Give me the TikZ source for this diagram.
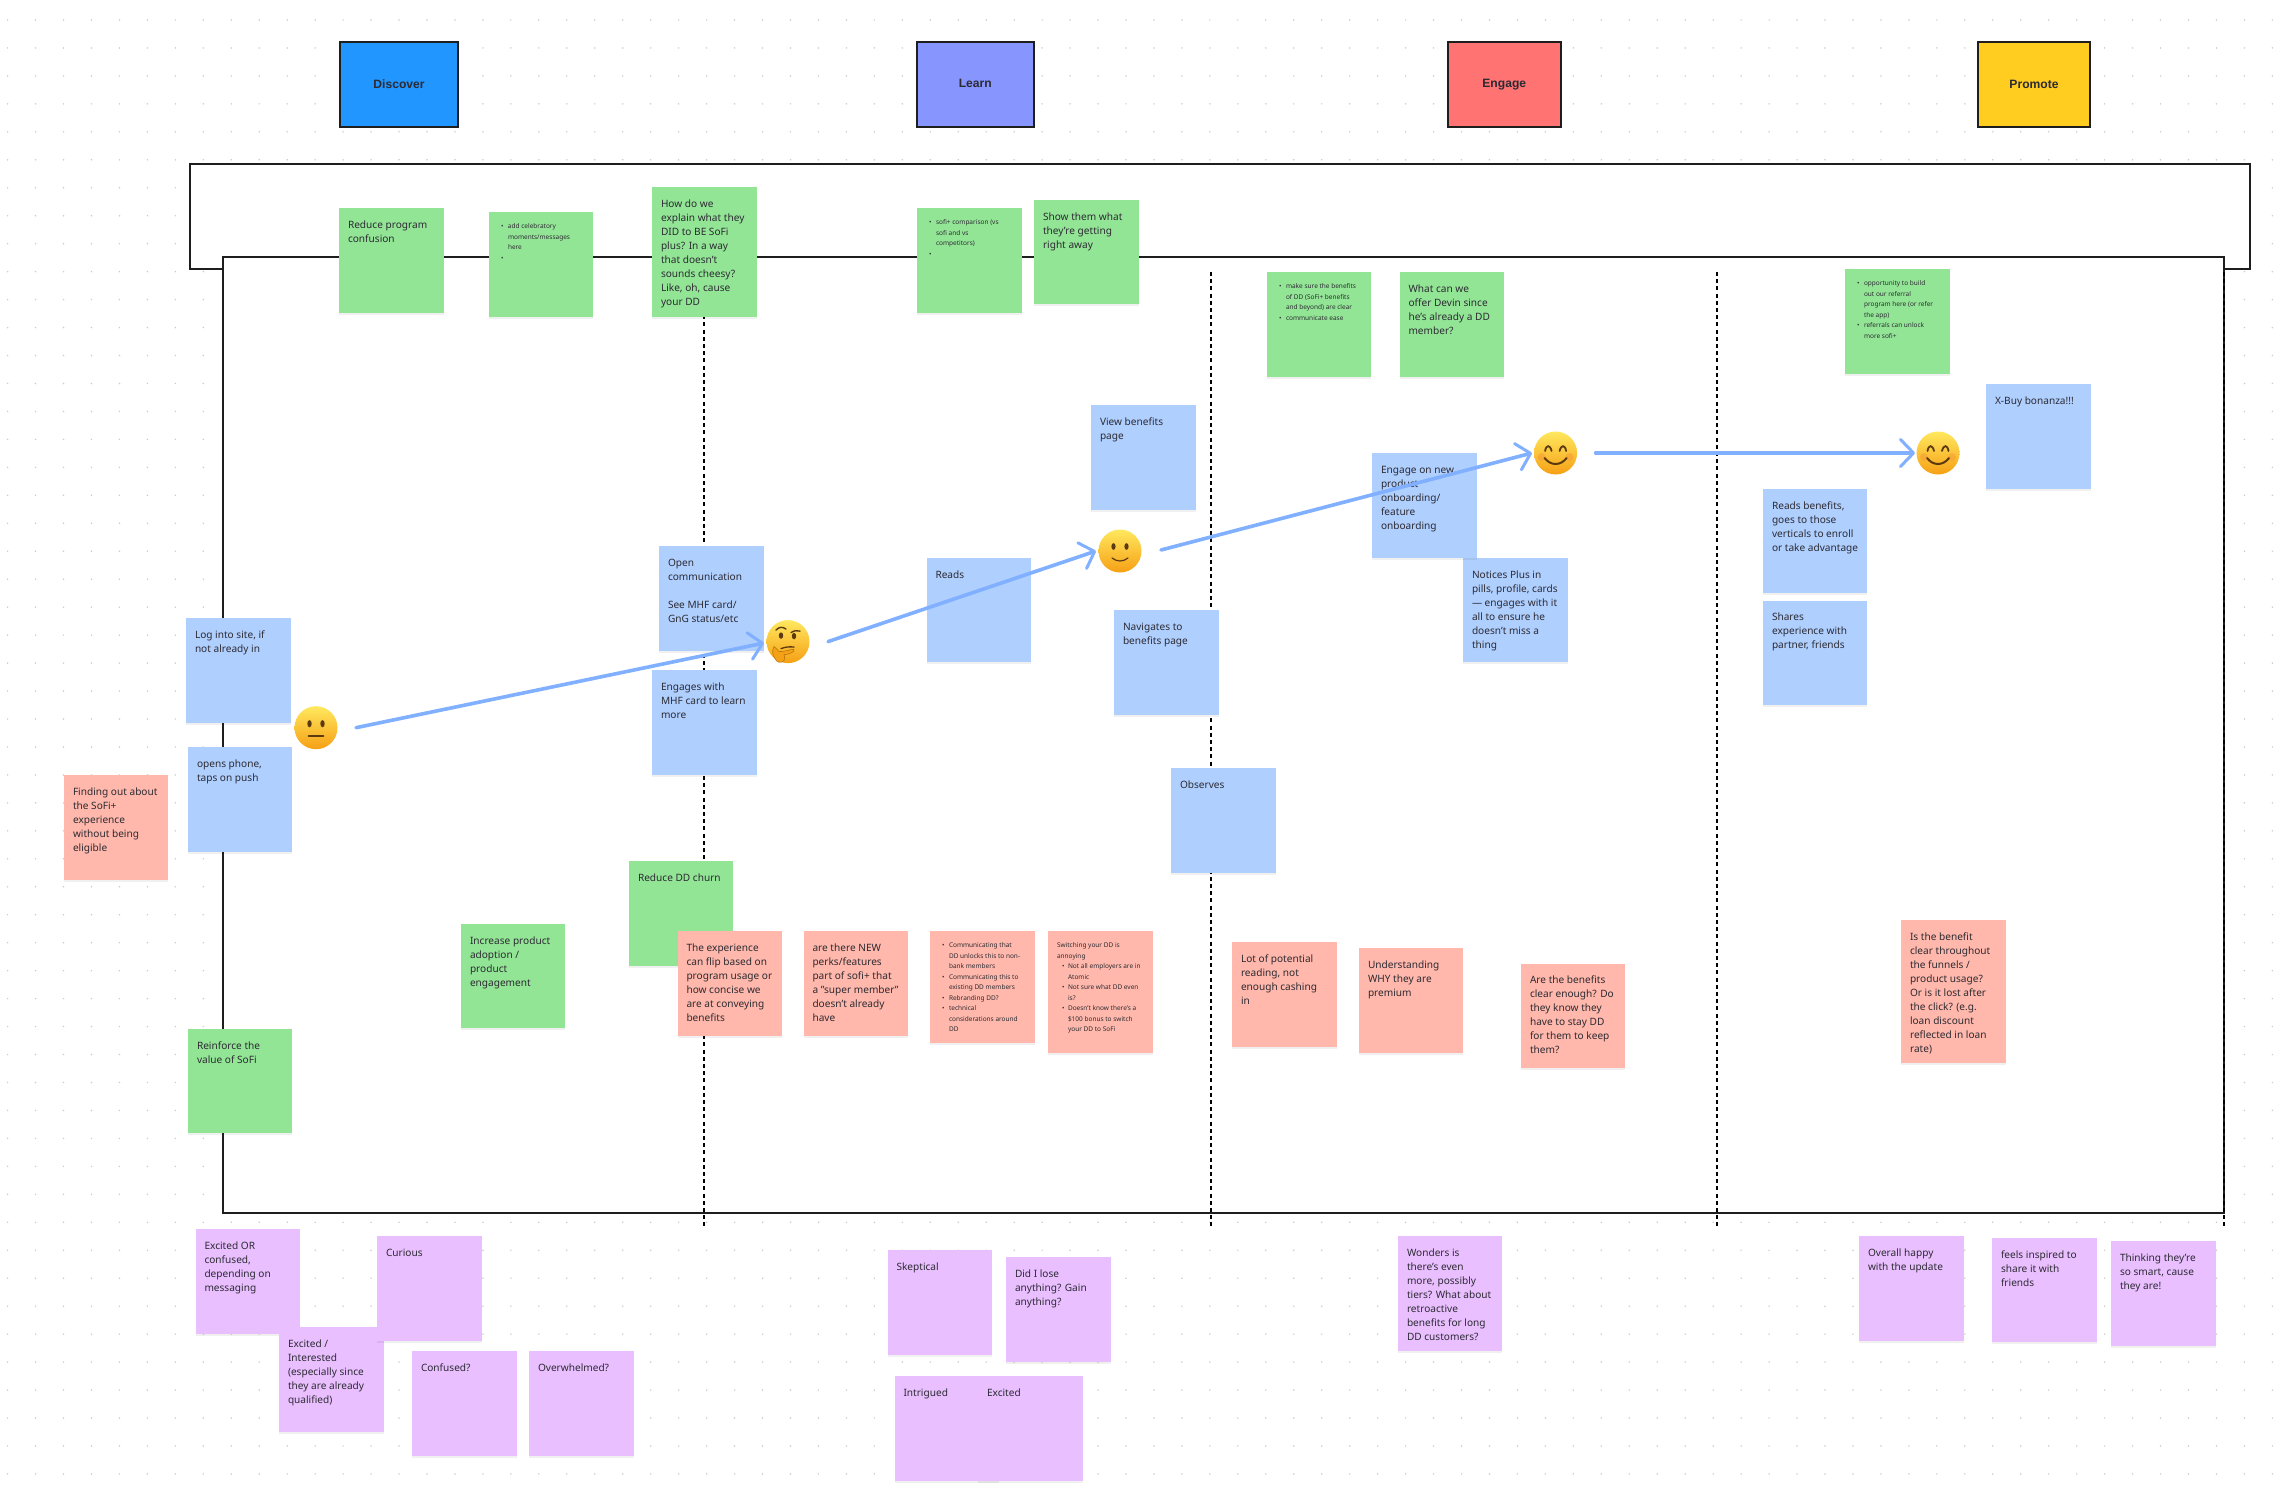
\documentclass[tikz,border=0pt]{standalone}
\usepackage{fontspec}
\setmainfont{Noto Sans}
\newfontfamily\stagefont{Liberation Sans}
\usetikzlibrary{arrows.meta,shadows,calc}
\definecolor{ngreen}{HTML}{93E596}
\definecolor{nblue}{HTML}{AFCFFF}
\definecolor{nsalmon}{HTML}{FFB8AB}
\definecolor{npurple}{HTML}{E9BFFF}
\definecolor{txt}{HTML}{2C2A32}
\definecolor{arrowblue}{HTML}{80B0FF}
\definecolor{frameblack}{HTML}{1E1E1E}
\definecolor{eyedark}{HTML}{5B3A12}
\definecolor{stdiscover}{HTML}{2196FF}
\definecolor{stlearn}{HTML}{8795FF}
\definecolor{stengage}{HTML}{FF7373}
\definecolor{stpromote}{HTML}{FFCD1F}
\definecolor{cheek}{HTML}{F07A3A}
\definecolor{FFtop}{HTML}{FFE85E}
\definecolor{FFcore}{HTML}{FFD233}
\definecolor{FFedge}{HTML}{F6A015}
\tikzset{
  x=1pt,y=-1pt,
  note/.style={fill=#1,anchor=north west,inner sep=0pt,outer sep=0pt,text=txt,
    drop shadow={shadow xshift=0pt,shadow yshift=-2pt,opacity=.06,fill=black}},
  stagebox/.style={fill=#1,draw=frameblack,line width=2pt,anchor=north west,inner sep=0pt,outer sep=0pt,
    text=txt,font=\stagefont\bfseries\fontsize{12.1}{14}\selectfont},
  framebox/.style={draw=frameblack,fill=white,line width=2.2pt,anchor=north west,inner sep=0pt,outer sep=0pt},
  dashline/.style={draw=black,line width=1.7pt,dash pattern=on 4pt off 3.2pt},
  flow/.style={draw=arrowblue,line width=3.6pt,line cap=round,
    -{Straight Barb[length=13pt,width=27pt,line width=3pt,round]}},
  emo/.style={circle,minimum size=43pt,inner sep=0pt,outer sep=0pt,
    top color=FFtop,middle color=FFcore,bottom color=FFedge},
  eyeline/.style={draw=eyedark,line cap=round},
}
\newcommand{\tbig}{\fontsize{10.1}{14}\selectfont\rule{0pt}{20pt}\ignorespaces}
\newcommand{\tsmall}{\fontsize{6.5}{10.5}\selectfont\rule{0pt}{16.6pt}\ignorespaces}
\newcommand{\bu}{\makebox[10pt][l]{\hspace{3pt}\textbullet}}
\newcommand{\bc}{\hspace*{10pt}}
\newcommand{\bsub}{\hspace*{5pt}\makebox[6pt][l]{\textbullet}}
\newcommand{\csub}{\hspace*{11pt}}
\newcommand{\stk}[7]{%
  \pgfmathsetmacro\stW{#5-#3}\pgfmathsetmacro\stH{#6-#4}%
  \node[note=#2,minimum width=\stW pt,minimum height=\stH pt] (#1) at (#3,#4)
    {\parbox[c][\stH pt][t]{\stW pt}{\leftskip=9pt\rightskip=0pt plus 1fil\parindent=0pt\hbadness=10000\hfuzz=40pt #7}};}
\newcommand{\stg}[7]{%
  \pgfmathsetmacro\stW{#5-#3}\pgfmathsetmacro\stH{#6-#4}%
  \node[stagebox=#2,minimum width=\stW pt,minimum height=\stH pt] (#1) at (#3,#4) {#7};}
\begin{document}
\begin{tikzpicture}
\useasboundingbox (0,0) rectangle (2286,1496);
\fill[white] (0,0) rectangle (2286,1496);
% dotted canvas
\foreach \i in {0,...,81}{\foreach \j in {0,...,52}{
  \fill[black!20] ({7.6+27.96*\i},{20+27.96*\j}) circle (0.85pt);}}
% stages
\stg{discover}{stdiscover}{340}{42}{458}{127}{Discover}
\stg{learn}{stlearn}{917}{42}{1033.5}{127}{\raisebox{3pt}{Learn}}
\stg{engage}{stengage}{1447.5}{42}{1561}{127}{Engage}
\stg{promote}{stpromote}{1978}{42}{2090}{127}{Promote}
% frames
\node[framebox,minimum width=2060pt,minimum height=105pt] (outer) at (190,164) {};
\node[framebox,minimum width=2001pt,minimum height=956pt] (inner) at (223,257) {};
% dashed phase lines
\coordinate (d1a) at (704,272); \coordinate (d1b) at (704,1226);
\coordinate (d2a) at (1211,272); \coordinate (d2b) at (1211,1226);
\coordinate (d3a) at (1717,272); \coordinate (d3b) at (1717,1226);
\coordinate (d4a) at (2224,272); \coordinate (d4b) at (2224,1226);
\draw[dashline] (d1a) -- (d1b);
\draw[dashline] (d2a) -- (d2b);
\draw[dashline] (d3a) -- (d3b);
\draw[dashline] (d4a) -- (d4b);
% green notes
\stk{g1}{ngreen}{339}{208}{444}{313}{\tbig Reduce program\\confusion}
\stk{g2}{ngreen}{489}{212}{593}{317}{\tsmall\bu add celebratory\\\bc moments/messages\\\bc here\\\bu}
\stk{g3}{ngreen}{652}{187}{757}{317}{\tbig How do we\\explain what they\\DID to BE SoFi\\plus? In a way\\that doesn’t\\sounds cheesy?\\Like, oh, cause\\your DD}
\stk{g4}{ngreen}{917}{208}{1022}{313}{\tsmall\bu sofi+ comparison (vs\\\bc sofi and vs\\\bc competitors)\\\bu}
\stk{g5}{ngreen}{1034}{200}{1139}{304}{\tbig Show them what\\they’re getting\\right away}
\stk{g6}{ngreen}{1267}{272}{1371}{377}{\tsmall\bu make sure the benefits\\\bc of DD (SoFi+ benefits\\\bc and beyond) are clear\\\bu communicate ease}
\stk{g7}{ngreen}{1399.5}{272}{1504}{377}{\tbig What can we\\offer Devin since\\he’s already a DD\\member?}
\stk{g8}{ngreen}{1845}{269}{1950}{374}{\tsmall\bu opportunity to build\\\bc out our referral\\\bc program here (or refer\\\bc the app)\\\bu referrals can unlock\\\bc more sofi+}
\stk{g9}{ngreen}{629}{861}{733}{966}{\tbig Reduce DD churn}
\stk{g10}{ngreen}{461}{924}{565}{1028}{\tbig Increase product\\adoption /\\product\\engagement}
\stk{g11}{ngreen}{188}{1029}{292}{1133}{\tbig Reinforce the\\value of SoFi}
% blue notes
\stk{b1}{nblue}{186}{618}{291}{723}{\tbig Log into site, if\\not already in}
\stk{b2}{nblue}{188}{747}{292}{852}{\tbig opens phone,\\taps on push}
\stk{b3}{nblue}{659}{546}{764}{651}{\tbig Open\\communication\\~\\See MHF card/\\GnG status/etc}
\stk{b4}{nblue}{652}{670}{757}{775}{\tbig Engages with\\MHF card to learn\\more}
\stk{b5}{nblue}{926.5}{558}{1031}{662}{\tbig Reads}
\stk{b6}{nblue}{1091}{405}{1196}{510}{\tbig View benefits\\page}
\stk{b7}{nblue}{1114}{610}{1219}{715}{\tbig Navigates to\\benefits page}
\stk{b8}{nblue}{1171}{768}{1275.5}{873}{\tbig Observes}
\stk{b10}{nblue}{1463}{558}{1568}{662}{\tbig Notices Plus in\\pills, profile, cards\\— engages with it\\all to ensure he\\doesn’t miss a\\thing}
\stk{b9}{nblue}{1372}{453}{1476.5}{558}{\tbig Engage on new\\product\\onboarding/\\feature\\onboarding}
\stk{b11}{nblue}{1763}{489}{1867}{593}{\tbig Reads benefits,\\goes to those\\verticals to enroll\\or take advantage}
\stk{b12}{nblue}{1763}{600.5}{1867}{705}{\tbig Shares\\experience with\\partner, friends}
\stk{b13}{nblue}{1986}{384}{2091}{489}{\tbig X-Buy bonanza!!!}
% salmon notes
\stk{s1}{nsalmon}{64}{775}{168}{880}{\tbig Finding out about\\the SoFi+\\experience\\without being\\eligible}
\stk{s2}{nsalmon}{677.5}{931}{782}{1036}{\tbig The experience\\can flip based on\\program usage or\\how concise we\\are at conveying\\benefits}
\stk{s3}{nsalmon}{803.5}{931}{908}{1036}{\tbig are there NEW\\perks/features\\part of sofi+ that\\a "super member"\\doesn’t already\\have}
\stk{s4}{nsalmon}{930}{931}{1035}{1043}{\tsmall\bu Communicating that\\\bc DD unlocks this to non-\\\bc bank members\\\bu Communicating this to\\\bc existing DD members\\\bu Rebranding DD?\\\bu technical\\\bc considerations around\\\bc DD}
\stk{s5}{nsalmon}{1048}{931}{1153}{1053}{\tsmall Switching your DD is\\annoying\\\bsub Not all employers are in\\\csub Atomic\\\bsub Not sure what DD even\\\csub is?\\\bsub Doesn’t know there’s a\\\csub \$100 bonus to switch\\\csub your DD to SoFi}
\stk{s6}{nsalmon}{1232}{942}{1337}{1047}{\tbig Lot of potential\\reading, not\\enough cashing\\in}
\stk{s7}{nsalmon}{1359}{948}{1463}{1053}{\tbig Understanding\\WHY they are\\premium}
\stk{s8}{nsalmon}{1521}{963.5}{1625}{1068}{\tbig Are the benefits\\clear enough? Do\\they know they\\have to stay DD\\for them to keep\\them?}
\stk{s9}{nsalmon}{1901}{920}{2006}{1063}{\tbig Is the benefit\\clear throughout\\the funnels /\\product usage?\\Or is it lost after\\the click? (e.g.\\loan discount\\reflected in loan\\rate)}
% purple notes
\stk{p1}{npurple}{195.5}{1229}{300}{1334}{\tbig Excited OR\\confused,\\depending on\\messaging}
\stk{p2}{npurple}{279}{1327}{384}{1432}{\tbig Excited /\\Interested\\(especially since\\they are already\\qualified)}
\stk{p3}{npurple}{377}{1236}{482}{1341}{\tbig Curious}
\stk{p4}{npurple}{412}{1351}{517}{1456}{\tbig Confused?}
\stk{p5}{npurple}{529}{1351}{634}{1456}{\tbig Overwhelmed?}
\stk{p6}{npurple}{887.5}{1250}{992}{1355}{\tbig Skeptical}
\stk{p7}{npurple}{1006}{1257}{1111}{1362}{\tbig Did I lose\\anything? Gain\\anything?}
\stk{p8}{npurple}{894.5}{1376}{999}{1481}{\tbig Intrigued}
\stk{p9}{npurple}{978}{1376}{1083}{1481}{\tbig Excited}
\stk{p10}{npurple}{1398}{1236}{1502}{1351}{\tbig Wonders is\\there’s even\\more, possibly\\tiers? What about\\retroactive\\benefits for long\\DD customers?}
\stk{p11}{npurple}{1859}{1236}{1964}{1341}{\tbig Overall happy\\with the update}
\stk{p12}{npurple}{1992}{1238}{2097}{1342}{\tbig feels inspired to\\share it with\\friends}
\stk{p13}{npurple}{2111}{1241}{2216}{1346}{\tbig Thinking they’re\\so smart, cause\\they are!}
% emoji faces
\node[emo] (e1) at (316,727.7) {};
\node[emo] (e2) at (788,641.6) {};
\node[emo] (e3) at (1120,551) {};
\node[emo] (e4) at (1555.6,453) {};
\node[emo] (e5) at (1938,453) {};
% flow arrows
\draw[flow] ($(e1)+(40,0)$) -- ($(e2)+(-24,1.4)$);
\draw[flow] ($(e2)+(40,0)$) -- ($(e3)+(-24,0)$);
\draw[flow] ($(e3)+(41,-1)$) -- ($(e4)+(-23.6,0)$);
\draw[flow] ($(e4)+(40,0)$) -- ($(e5)+(-23,0)$);
% neutral face
\begin{scope}[shift={(e1)}]
  \fill[eyedark] (-6.5,-4) ellipse (2.2pt and 3.6pt) (6.5,-4) ellipse (2.2pt and 3.6pt);
  \draw[eyeline,line width=1.8pt] (-7.5,8) -- (7.5,8);
\end{scope}
% thinking face
\begin{scope}[shift={(e2)}]
  \fill[eyedark] (-7,-6) ellipse (2.2pt and 3.2pt) (6,-5.5) ellipse (2.2pt and 3.2pt);
  \draw[eyeline,line width=1.4pt] (-12,-11.5) .. controls (-9,-15) and (-5,-15) .. (-2,-12.5);
  \draw[eyeline,line width=1.4pt] (3,-9) .. controls (6,-11) and (9,-11.5) .. (12,-10.5);
  \draw[eyeline,line width=1.3pt] (-7,7) .. controls (-2,5) and (3,5) .. (6,5.5);
  \path[fill=FFedge,draw=FFedge!75!black,line width=.6pt]
    (-14,5) .. controls (-16,9) and (-16,13) .. (-13,17)
    .. controls (-11,21) and (-7,22) .. (-4,19)
    .. controls (-3,17) and (-3,15) .. (-4,13)
    .. controls (-1,13) and (3,12) .. (6,9.5)
    .. controls (7,8) and (5,7) .. (3,8)
    .. controls (-1,9) and (-5,10) .. (-9,10)
    .. controls (-11,8) and (-12,6) .. (-14,5) -- cycle;
\end{scope}
% slight smile
\begin{scope}[shift={(e3)}]
  \fill[eyedark] (-6.5,-4.5) ellipse (2.1pt and 3.4pt) (6.5,-4.5) ellipse (2.1pt and 3.4pt);
  \draw[eyeline,line width=1.2pt] (-8,7) .. controls (-3,11) and (3,11) .. (8,7);
\end{scope}
% happy faces
\foreach \f in {e4,e5}{
\begin{scope}[shift={(\f)}]
  \fill[cheek,opacity=.28] (-14,4) circle (4pt) (14,4) circle (4pt);
  \draw[eyeline,line width=1.8pt] (-10.5,-2) .. controls (-9.5,-8.5) and (-5.5,-8.5) .. (-4,-2);
  \draw[eyeline,line width=1.8pt] (4,-2) .. controls (5.5,-8.5) and (9.5,-8.5) .. (10.5,-2);
  \draw[eyeline,line width=2pt] (-11,5) .. controls (-5,13) and (5,13) .. (11,5);
\end{scope}}
\end{tikzpicture}
\end{document}
